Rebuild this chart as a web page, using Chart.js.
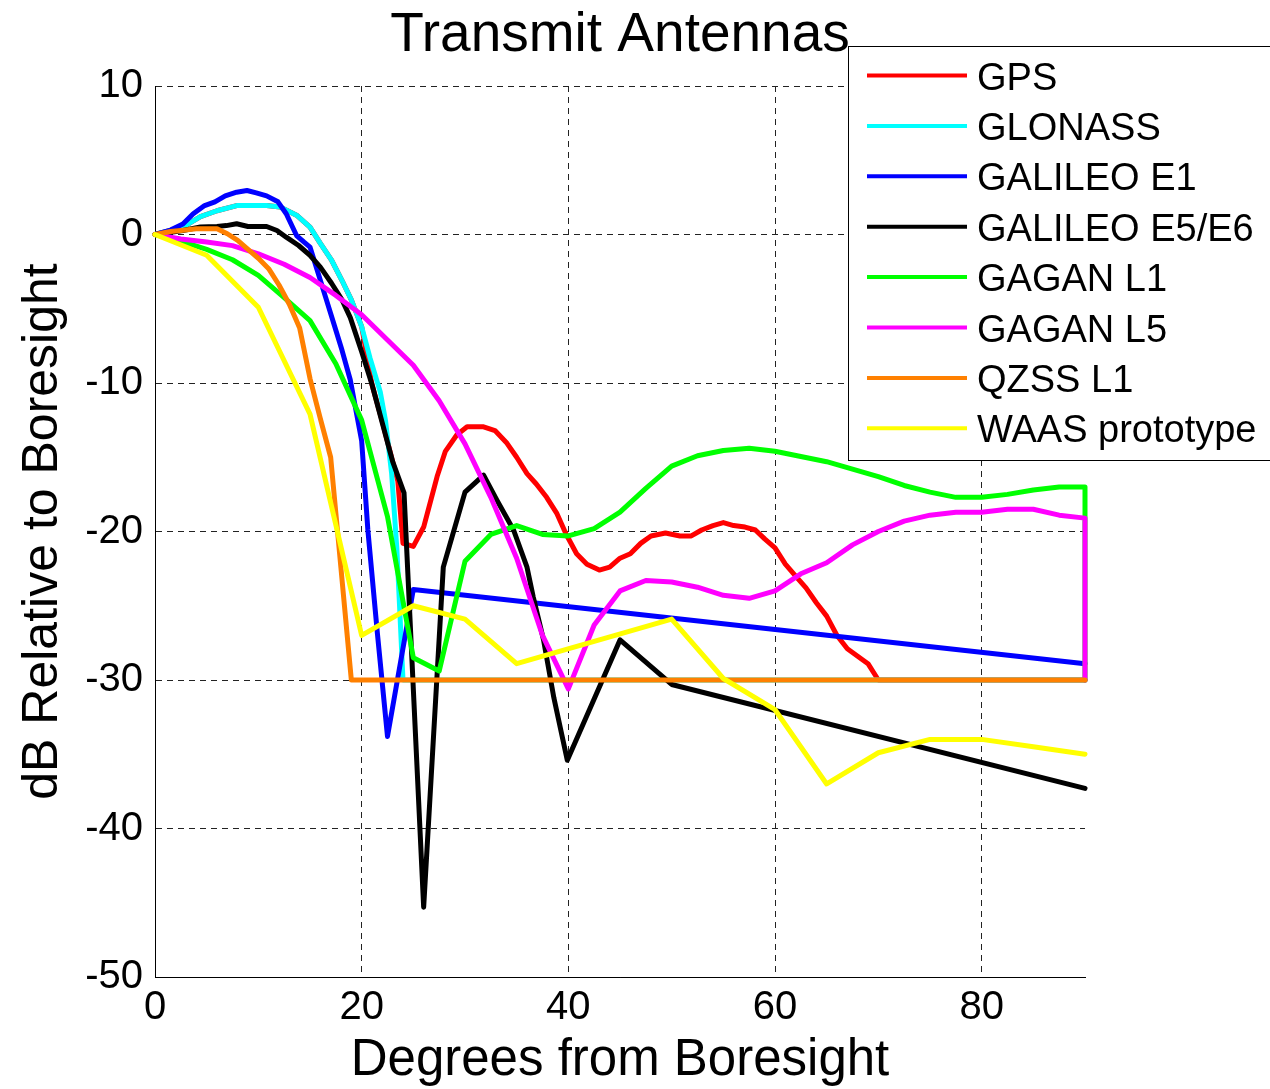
<!DOCTYPE html>
<html>
<head>
<meta charset="utf-8">
<script src="https://cdn.jsdelivr.net/npm/chart.js@4.4.1/dist/chart.umd.min.js"></script>
<style>
  html, body { margin: 0; padding: 0; background: #fff; }
  canvas { display: block; }
</style>
</head>
<body>
<canvas id="chart" width="1270" height="1089"></canvas>
<script>
const FONT = "'Liberation Sans', Arial, Helvetica, sans-serif"

// axis ticks
const xTicks = [0, 20, 40, 60, 80]
const yTicks = [10, 0, -10, -20, -30, -40, -50]

const seriesLabels = ["GPS", "GLONASS", "GALILEO E1", "GALILEO E5/E6", "GAGAN L1", "GAGAN L5", "QZSS L1", "WAAS prototype"]
const seriesColors = ["#FF0000", "#00FFFF", "#0000FF", "#000000", "#00FF00", "#FF00FF", "#FF8000", "#FFFF00"]

// degrees from boresight / dB
const gpsX = [0, 2.7, 4.4, 6, 7.9, 10.8, 12.1, 13.7, 15, 16, 17.1, 18.1, 19, 20, 21, 22, 23, 23.5, 24, 25, 26, 27.3, 28.1, 29.2, 30.2, 31.8, 32.9, 34, 35, 36, 36.9, 37.9, 38.9, 39.8, 40.8, 41.8, 43, 44, 45, 46, 47, 48, 49.4, 50.8, 51.9, 52.9, 54, 55, 56, 57.1, 58.1, 59, 60, 61, 62, 63, 64, 65, 66, 67, 68, 69, 70, 90]
const gpsY = [0, 0.5, 1.2, 1.6, 1.95, 1.95, 1.85, 1.3, 0.5, -0.6, -1.75, -3.1, -4.4, -6.2, -10.1, -12.6, -15.3, -16.6, -20.8, -21.0, -19.7, -16.3, -14.6, -13.5, -12.95, -12.95, -13.2, -14.0, -15.0, -16.1, -16.8, -17.7, -18.8, -20.2, -21.5, -22.2, -22.6, -22.4, -21.8, -21.5, -20.8, -20.3, -20.1, -20.3, -20.3, -19.9, -19.6, -19.4, -19.6, -19.7, -19.9, -20.5, -21.1, -22.2, -23.0, -23.8, -24.8, -25.7, -27.0, -27.9, -28.4, -28.9, -30, -30]

const glonassX = [0, 2.7, 4.4, 6, 7.9, 10.8, 12.1, 13.7, 15, 16, 17.1, 18.1, 19, 20, 20.8, 21.8, 22.3, 22.9, 23.4, 23.7, 24, 90]
const glonassY = [0, 0.5, 1.2, 1.6, 1.95, 1.95, 1.85, 1.3, 0.5, -0.6, -1.75, -3.1, -4.4, -6.2, -8.3, -10.6, -12.5, -16.1, -21.1, -25.5, -30, -30]

const e1X = [0, 1.5, 2.7, 3.7, 4.8, 5.8, 6.8, 7.9, 8.9, 9.8, 10.8, 11.9, 12.7, 13.7, 14.4, 15, 15.7, 16.5, 17.3, 18.1, 18.9, 20, 20.6, 21.5, 22.5, 25, 90]
const e1Y = [0, 0.3, 0.7, 1.4, 1.95, 2.2, 2.6, 2.85, 2.96, 2.8, 2.6, 2.2, 1.4, -0.07, -0.5, -0.85, -2.4, -4.2, -6.0, -7.8, -9.8, -13.9, -19.9, -26.7, -33.8, -23.9, -28.9]

const e5X = [0, 2.7, 4.4, 6, 6.9, 7.9, 9, 10.8, 11.8, 12.7, 13.9, 15, 16, 17.1, 18.1, 18.9, 20, 21, 22, 23, 24.1, 26, 27.9, 30, 31.8, 33.1, 34.7, 36, 36.6, 37.6, 38.6, 39.9, 45, 50, 90]
const e5Y = [0, 0.27, 0.5, 0.54, 0.6, 0.72, 0.54, 0.54, 0.27, -0.18, -0.74, -1.4, -2.2, -3.3, -4.4, -5.6, -7.9, -10.1, -12.7, -15.3, -17.4, -45.3, -22.4, -17.35, -16.2, -17.9, -19.9, -22.4, -24.4, -27.3, -31.2, -35.4, -27.3, -30.3, -37.3]

const l1X = [0, 2.5, 5, 7.5, 10, 12.5, 15, 17.5, 20, 22.5, 25, 27.5, 30, 32.5, 35, 37.5, 40, 42.5, 45, 47.5, 50, 52.5, 55, 57.5, 60, 62.5, 65, 67.5, 70, 72.5, 75, 77.5, 80, 82.5, 85, 87.5, 90, 90]
const l1Y = [0, -0.45, -1.0, -1.7, -2.75, -4.25, -5.8, -8.7, -12.5, -19.0, -28.5, -29.4, -22.0, -20.2, -19.6, -20.2, -20.3, -19.8, -18.7, -17.1, -15.6, -14.9, -14.55, -14.4, -14.6, -14.95, -15.3, -15.8, -16.3, -16.9, -17.35, -17.7, -17.7, -17.5, -17.2, -17.0, -17.0, -30]

const l5X = [0, 2.5, 5, 7.5, 10, 12.5, 15, 17.5, 20, 22.5, 25, 27.5, 30, 32.5, 35, 37.5, 40, 42.5, 45, 47.5, 50, 52.5, 55, 57.5, 60, 62.5, 65, 67.5, 70, 72.5, 75, 77.5, 80, 82.5, 85, 87.5, 90, 90]
const l5Y = [0, -0.3, -0.5, -0.75, -1.3, -2.0, -2.9, -4.1, -5.4, -7.1, -8.8, -11.2, -14.1, -17.7, -21.8, -27.0, -30.6, -26.3, -24.0, -23.3, -23.4, -23.75, -24.3, -24.5, -24.0, -22.85, -22.1, -20.9, -20.0, -19.3, -18.9, -18.7, -18.7, -18.5, -18.5, -18.9, -19.1, -30]

const qzssX = [0, 1.5, 2.5, 4, 6, 7, 8, 9, 10, 11, 12, 13, 14, 15, 16, 17, 18, 19, 90]
const qzssY = [0, 0.2, 0.27, 0.38, 0.38, 0.05, -0.4, -1.0, -1.6, -2.3, -3.4, -4.7, -6.3, -9.7, -12.4, -15.0, -22.5, -30, -30]

const waasX = [0, 5, 10, 15, 20, 25, 30, 35, 50, 55, 60, 65, 70, 75, 80, 85, 90]
const waasY = [0, -1.4, -4.9, -12.1, -27.0, -25.0, -25.9, -28.9, -25.9, -29.9, -32.0, -37.0, -34.9, -34.0, -34.0, -34.5, -35.0]

const seriesX = [gpsX, glonassX, e1X, e5X, l1X, l5X, qzssX, waasX]
const seriesY = [gpsY, glonassY, e1Y, e5Y, l1Y, l5Y, qzssY, waasY]

function zip(xs, ys) {
  return xs.map((x, i) => ({ x: x, y: ys[i] }))
}

const datasets = seriesLabels.map((label, i) => ({
  label: label,
  data: zip(seriesX[i], seriesY[i]),
  borderColor: seriesColors[i],
  borderWidth: 5,
  borderJoinStyle: "round",
  borderCapStyle: "round",
  pointRadius: 0,
  tension: 0,
  fill: false,
  clip: false,
  // later series sit on top, like the matlab plot
  order: seriesLabels.length - 1 - i,
}))

// matlab style legend box in the upper right, running off the figure
const boxLegend = {
  id: "boxLegend",
  afterDraw(chart) {
    const ctx = chart.ctx
    ctx.save()
    ctx.fillStyle = "#fff"
    ctx.strokeStyle = "#000"
    ctx.lineWidth = 1
    ctx.fillRect(848.5, 46.5, 440, 414)
    ctx.strokeRect(848.5, 46.5, 440, 414)
    ctx.font = "38px " + FONT
    ctx.textBaseline = "alphabetic"
    ctx.textAlign = "left"
    chart.data.datasets.forEach((ds, i) => {
      const y = 75.5 + i * 50.4
      ctx.strokeStyle = ds.borderColor
      ctx.lineWidth = 4
      ctx.beginPath()
      ctx.moveTo(867, y)
      ctx.lineTo(967, y)
      ctx.stroke()
      ctx.fillStyle = "#000"
      ctx.fillText(ds.label, 977, y + 14)
    })
    ctx.restore()
  },
}

Chart.defaults.font.family = FONT
Chart.defaults.color = "#000"

const config = {
  type: "line",
  data: { datasets: datasets },
  plugins: [boxLegend],
  options: {
    responsive: false,
    animation: false,
    devicePixelRatio: 1,
    layout: { padding: { left: 0, right: 185, top: 0, bottom: 0 } },
    plugins: {
      legend: { display: false },
      tooltip: { enabled: false },
      title: {
        display: true,
        text: "Transmit Antennas",
        fullSize: false,
        color: "#000",
        font: { size: 55, weight: "normal", family: FONT },
        padding: { top: 3, bottom: 17 },
      },
    },
    scales: {
      x: {
        type: "linear",
        min: 0,
        max: 90,
        afterBuildTicks: (scale) => {
          scale.ticks = xTicks.map((v) => ({ value: v }))
        },
        afterFit: (scale) => {
          scale.height = 112
        },
        ticks: {
          callback: (v) => String(v),
          font: { size: 40 },
          color: "#000",
          padding: 7,
          maxRotation: 0,
        },
        grid: { color: "#222", lineWidth: 1, drawTicks: false },
        border: { display: true, color: "#000", width: 1, dash: [6, 5] },
        title: {
          display: true,
          text: "Degrees from Boresight",
          font: { size: 51 },
          color: "#000",
          padding: { top: 0, bottom: -3 },
        },
      },
      y: {
        type: "linear",
        min: -50,
        max: 10,
        afterBuildTicks: (scale) => {
          scale.ticks = yTicks.map((v) => ({ value: v }))
        },
        afterFit: (scale) => {
          scale.width = 155
        },
        ticks: {
          callback: (v) => String(v),
          font: { size: 40 },
          color: "#000",
          padding: 12,
        },
        grid: { color: "#222", lineWidth: 1, drawTicks: false },
        border: { display: true, color: "#000", width: 1, dash: [6, 5] },
        title: {
          display: true,
          text: "dB Relative to Boresight",
          font: { size: 50 },
          color: "#000",
          padding: { top: 13, bottom: 0 },
        },
      },
    },
  },
}

var chart = new Chart(document.getElementById("chart"), config)
</script>
</body>
</html>
